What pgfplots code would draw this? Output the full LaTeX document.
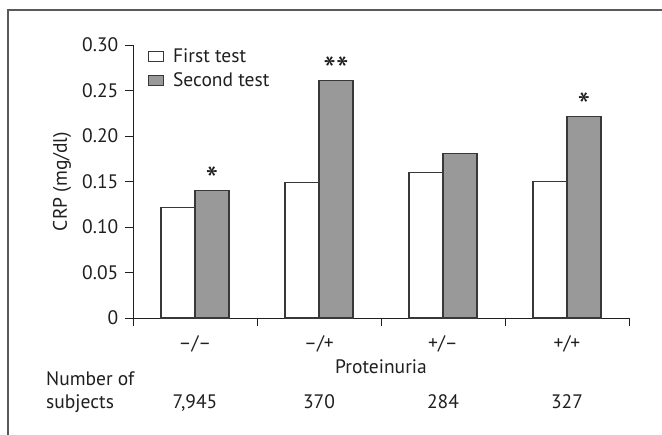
\documentclass[border=0pt]{standalone}
\usepackage{pgfplots}
\pgfplotsset{compat=1.18}
\usepackage{fontspec}
\setmainfont{PT Sans}
\definecolor{barfill}{gray}{0.6}
\definecolor{edge}{gray}{0.22}
\definecolor{ink}{gray}{0.12}
\definecolor{frame}{gray}{0.35}
\begin{document}
\fontsize{19.5}{23}\selectfont
\begin{tikzpicture}[x=1pt,y=1pt]
\useasboundingbox (0,0) rectangle (662,-435);
% outer frame
\draw[frame, line width=1.3pt] (8,-445) -- (8,-10) -- (672,-10);
\begin{axis}[
  at={(133pt,-318pt)}, anchor=south west,
  scale only axis, width=496pt, height=273pt,
  xmin=0.5, xmax=4.5, ymin=0, ymax=0.30,
  axis x line=bottom, axis y line=left,
  axis line style={-, ink, line width=0.8pt},
  tick style={ink, line width=0.8pt},
  tick align=outside,
  xtick={1,2,3,4},
  xticklabels={–/–,–/+,+/–,+/+},
  major x tick style={draw=none},
  minor xtick={0.5,1.5,2.5,3.5,4.5},
  minor tick length=8pt,
  major tick length=8pt,
  ytick={0,0.05,0.10,0.15,0.20,0.25,0.30},
  yticklabels={0,0.05,0.10,0.15,0.20,0.25,0.30},
  xticklabel style={ink, yshift=-3pt},
  yticklabel style={ink},
  ylabel={CRP (mg/dl)},
  ylabel style={ink, yshift=-2pt},
  xlabel={Proteinuria},
  xlabel style={ink, yshift=6pt},
  ybar=0pt, bar width=34pt,
  legend style={draw=none, fill=none, at={(0.03,0.995)}, anchor=north west,
    font=\fontsize{19.5}{23}\selectfont, text=ink, row sep=3pt,
    inner sep=0pt},
  legend cell align=left,
  legend image code/.code={\draw[#1, line width=1pt] (0pt,-5pt) rectangle (15pt,5pt); \path (22pt,0pt);},
  clip=false,
]
\addplot[draw=edge, fill=white, line width=1.1pt]
  coordinates {(1,0.121) (2,0.149) (3,0.160) (4,0.150)};
\addplot[draw=edge, fill=barfill, line width=1.1pt,
  point meta=explicit symbolic,
  nodes near coords={\pgfplotspointmeta},
  every node near coord/.append style={ink, font=\fontsize{36}{36}\selectfont, yshift=-9pt, inner xsep=0pt}]
  coordinates {(1,0.140) [*] (2,0.261) [**] (3,0.181) [\relax] (4,0.221) [*]};
\legend{First test, Second test}
% sample sizes per category
\node[ink, anchor=base] at ([yshift=-91pt]axis cs:1,0) {7,945};
\node[ink, anchor=base] at ([yshift=-91pt]axis cs:2,0) {370};
\node[ink, anchor=base] at ([yshift=-91pt]axis cs:3,0) {284};
\node[ink, anchor=base] at ([yshift=-91pt]axis cs:4,0) {327};
\end{axis}
\node[ink, anchor=base west, align=left, inner sep=0pt] at (46,-386) {Number of};
\node[ink, anchor=base west, align=left, inner sep=0pt] at (46,-409) {subjects};
\end{tikzpicture}
\end{document}
